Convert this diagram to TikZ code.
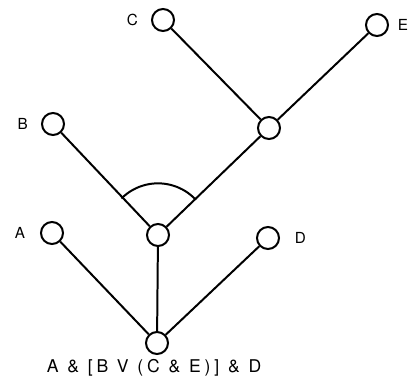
\documentclass[tikz,border=0pt]{standalone}
\usepackage{fontspec}
\setmainfont{TeX Gyre Heros}
\usetikzlibrary{calc}

\begin{document}
\begin{tikzpicture}[font=\fontsize{13}{15}\selectfont, line width=1.7pt,
    goal/.style={circle, draw, minimum size=6.6mm, inner sep=0pt}]
  \useasboundingbox (0,0) rectangle (12.27,-11.64);
  % leaves
  \node[goal, label={[label distance=2.5mm]left:C}]  (c) at (4.89,-0.60) {};
  \node[goal, label={[label distance=1.2mm]right:E}] (e) at (11.31,-0.75) {};
  \node[goal, label={[label distance=2.5mm]left:B}]  (b) at (1.59,-3.72) {};
  \node[goal, label={[label distance=3mm]left:A}]    (a) at (1.56,-6.99) {};
  \node[goal, label={[label distance=3mm]right:D}]   (d) at (8.04,-7.14) {};
  % inner nodes
  \node[goal] (ce)   at (8.07,-3.84) {};
  \node[goal] (or)   at (4.74,-7.05) {};
  \node[goal] (root) at (4.71,-10.29) {};
  \node[font=\fontsize{15}{17}\selectfont\addfontfeatures{LetterSpace=22}]
    (expr) at (4.62,-11.02) {A \& [B V (C \& E)] \& D};
  \draw (c) -- (ce);
  \draw (e) -- (ce);
  \draw (b) -- (or);
  \draw (ce) -- (or);
  \draw (a) -- (root);
  \draw (or) -- (root);
  \draw (d) -- (root);
  % or-arc
  \draw ($(or.center)+(43:1.55)$) arc (43:135:1.55);
\end{tikzpicture}
\end{document}
